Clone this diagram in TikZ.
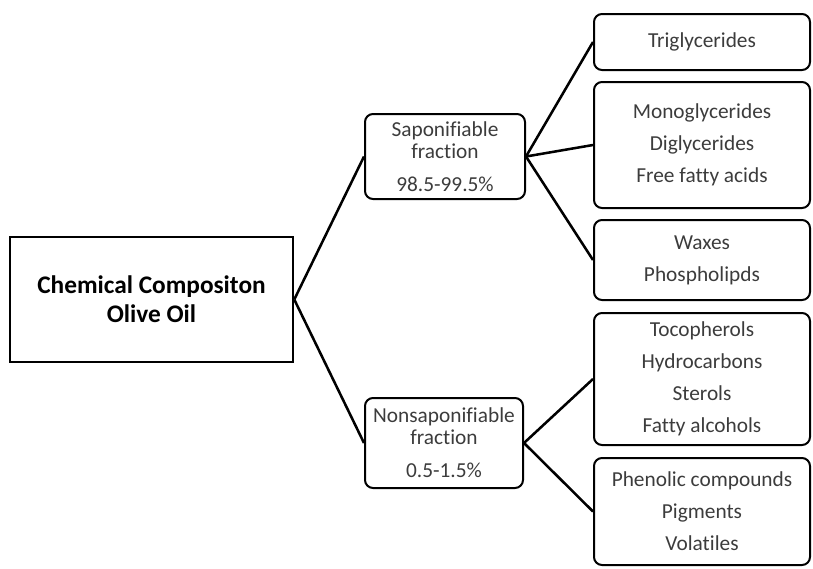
\documentclass[tikz,border=0pt]{standalone}
\usepackage{fontspec}
\setmainfont{Carlito}[Ligatures=NoCommon]
\usepackage{tikz}
\definecolor{boxtext}{RGB}{60,60,60}

\begin{document}
\begin{tikzpicture}[x=0.75pt,y=0.75pt,yscale=-1,xscale=1,
  fraction/.style={draw=black, line width=1.5, rounded corners=6, text=boxtext, align=center,
    inner sep=0, minimum width=120pt, font=\fontsize{16}{16.5}\selectfont},
  leaf/.style={draw=black, line width=1.5, rounded corners=6, text=boxtext, align=center,
    inner sep=0, minimum width=162pt, font=\fontsize{16}{24}\selectfont},
  branch/.style={line width=1.9}]
\useasboundingbox (0,0) rectangle (813,568);

%Shape: Rectangle [id:root] 
\node [draw=black, line width=1.9, inner sep=0, minimum width=212.25pt, minimum height=93.75pt,
  align=center, font=\fontsize{19}{21.75}\selectfont\bfseries] (olive) at (151.5,299.5)
  {Chemical Compositon\\Olive Oil};

%Shape: Rounded Rect [id:fractions] 
\node [fraction, minimum height=63.75pt] (sapon) at (445,156.5)
  {Saponifiable\\fraction\\[8pt]98.5-99.5\%};
\node [fraction, minimum width=118.5pt, minimum height=67.5pt] (nonsapon) at (444,443)
  {Nonsaponifiable\\fraction\\[8pt]0.5-1.5\%};

%Shape: Rounded Rect [id:components] 
\node [leaf, minimum height=42pt] (trigly) at (702,42) {Triglycerides};
\node [leaf, minimum height=94.5pt] (monogly) at (702,145)
  {Monoglycerides\\Diglycerides\\Free fatty acids};
\node [leaf, minimum height=60pt] (waxes) at (702,260) {Waxes\\Phospholipds};
\node [leaf, minimum height=99pt] (tocoph) at (702,379)
  {Tocopherols\\Hydrocarbons\\Sterols\\Fatty alcohols};
\node [leaf, minimum height=80.25pt] (phenol) at (702,511.5)
  {Phenolic compounds\\Pigments\\Volatiles};

%Straight Lines [id:branches] 
\draw [branch] (olive.east) -- (sapon.west);
\draw [branch] (olive.east) -- (nonsapon.west);

\draw [branch] (sapon.east) -- (trigly.west);
\draw [branch] (sapon.east) -- (monogly.west);
\draw [branch] (sapon.east) -- (waxes.west);

\draw [branch] (nonsapon.east) -- (tocoph.west);
\draw [branch] (nonsapon.east) -- (phenol.west);
\end{tikzpicture}
\end{document}
